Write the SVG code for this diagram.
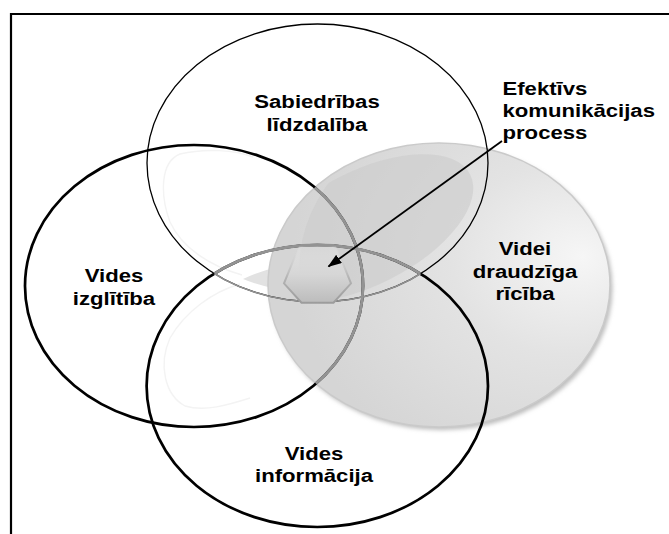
<svg xmlns="http://www.w3.org/2000/svg" width="669" height="534" viewBox="0 0 669 534">
<style>
.t{font-family:"Liberation Sans",Arial,Helvetica,sans-serif;font-weight:bold;font-size:18px;fill:#000}
.c{text-anchor:middle}
.ring{fill:none;stroke:#000}
.thick{stroke-width:2.7}
.thin{stroke-width:1.3}
.dim{fill:none;stroke:#939393}
.ghost{fill:none;stroke:#f3f3f3;stroke-width:1.4}
</style>
<defs>
<radialGradient id="gFill" cx="0.82" cy="0.42" r="0.75" fx="0.92" fy="0.4">
<stop offset="0" stop-color="#f6f6f6"/>
<stop offset="0.45" stop-color="#e3e3e3"/>
<stop offset="1" stop-color="#d5d5d5"/>
</radialGradient>
<linearGradient id="hexFill" x1="0" y1="0" x2="0" y2="1">
<stop offset="0" stop-color="#e6e6e6" stop-opacity="0.3"/>
<stop offset="0.5" stop-color="#d6d6d6"/>
<stop offset="1" stop-color="#bcbcbc"/>
</linearGradient>
<linearGradient id="hexStroke" x1="0" y1="0" x2="0" y2="1">
<stop offset="0" stop-color="#dcdcdc" stop-opacity="0"/>
<stop offset="0.55" stop-color="#b4b4b4"/>
<stop offset="1" stop-color="#9c9c9c"/>
</linearGradient>
<filter id="sh" x="-10%" y="-10%" width="120%" height="120%">
<feGaussianBlur stdDeviation="2"/>
</filter>
<clipPath id="cpGray"><ellipse cx="439" cy="285" rx="171" ry="142"/></clipPath>
<clipPath id="cpGrayIn"><ellipse cx="439" cy="285" rx="163" ry="134"/></clipPath>
<clipPath id="cpTop"><ellipse cx="317.5" cy="163" rx="170.5" ry="139"/></clipPath>
<clipPath id="cpBottom"><ellipse cx="317.3" cy="386" rx="170.7" ry="141"/></clipPath>
<marker id="ah" markerUnits="userSpaceOnUse" markerWidth="14" markerHeight="10" refX="13" refY="5" orient="auto">
<path d="M0,0 L14,5 L0,10 z" fill="#000"/>
</marker>
</defs>

<rect width="669" height="534" fill="#fff"/>
<!-- frame (top and left edges only) -->
<path d="M11,534 V14 H669" fill="none" stroke="#000" stroke-width="2.2"/>

<!-- faint highlight ghosts -->
<path class="ghost" d="M253,157 C235,150 205,148 180,154 C160,162 160,195 170,222 C182,248 210,266 242,275"/>
<path class="ghost" d="M240,284 C212,292 185,312 170,338 C158,365 165,395 185,406 C205,412 228,405 250,398"/>
<!-- light leaf -->
<path d="M243,279 Q270,266 300,264 L300,292 Q270,290 243,279 Z" fill="#e2e2e2"/>

<g id="node-right">
<ellipse cx="441.5" cy="288" rx="171" ry="142" fill="#bdbdbd" filter="url(#sh)"/>
<ellipse cx="439" cy="285" rx="171" ry="142" fill="url(#gFill)" stroke="#cacaca" stroke-width="1.5"/>
<ellipse cx="365" cy="228" rx="118" ry="57" transform="rotate(-27 365 228)" fill="#cbcbcb" opacity="0.6" clip-path="url(#cpGrayIn)"/>
<text class="t c" transform="matrix(1.23,0,0,1,525,0)"><tspan x="0" y="255.5">Videi</tspan><tspan x="0" y="277.8">draudzīga</tspan><tspan x="0" y="300">rīcība</tspan></text>
</g>

<g id="node-left">
<ellipse class="ring thick" cx="194" cy="286" rx="169" ry="141"/>
<text class="t c" transform="matrix(1.23,0,0,1,114,0)"><tspan x="0" y="282">Vides</tspan><tspan x="0" y="305">izglītība</tspan></text>
</g>

<g id="node-top">
<ellipse class="ring thin" cx="317.5" cy="163" rx="170.5" ry="139"/>
<text class="t c" transform="matrix(1.23,0,0,1,317,0)"><tspan x="0" y="108">Sabiedrības</tspan><tspan x="0" y="131">līdzdalība</tspan></text>
</g>

<g id="node-bottom">
<ellipse class="ring thick" cx="317.3" cy="386" rx="170.7" ry="141"/>
<text class="t c" transform="matrix(1.23,0,0,1,314,0)"><tspan x="0" y="460.5">Vides</tspan><tspan x="0" y="482">informācija</tspan></text>
</g>

<!-- dimmed outline segments in the overlap areas -->
<g id="overlap-dim">
<ellipse class="dim" stroke-width="2.9" cx="194" cy="286" rx="169" ry="141" clip-path="url(#cpGray)"/>
<ellipse class="dim" stroke-width="1.6" cx="317.5" cy="163" rx="170.5" ry="139" clip-path="url(#cpBottom)"/>
<ellipse class="dim" stroke-width="2.9" cx="317.3" cy="386" rx="170.7" ry="141" clip-path="url(#cpTop)"/>
</g>

<g id="node-center">
<polygon points="299,246.5 336,246.5 351,283.3 333.5,302.7 301.5,302.7 284,283.3" fill="url(#hexFill)" stroke="url(#hexStroke)" stroke-width="2"/>
</g>

<g id="node-label">
<text class="t" transform="matrix(1.23,0,0,1,502.5,0)"><tspan x="0" y="95">Efektīvs</tspan><tspan x="0" y="117.3">komunikācijas</tspan><tspan x="0" y="139.5">process</tspan></text>
</g>

<g id="connectors">
<line x1="502" y1="141" x2="328.5" y2="266.5" stroke="#000" stroke-width="1.8" marker-end="url(#ah)"/>
</g>
</svg>
